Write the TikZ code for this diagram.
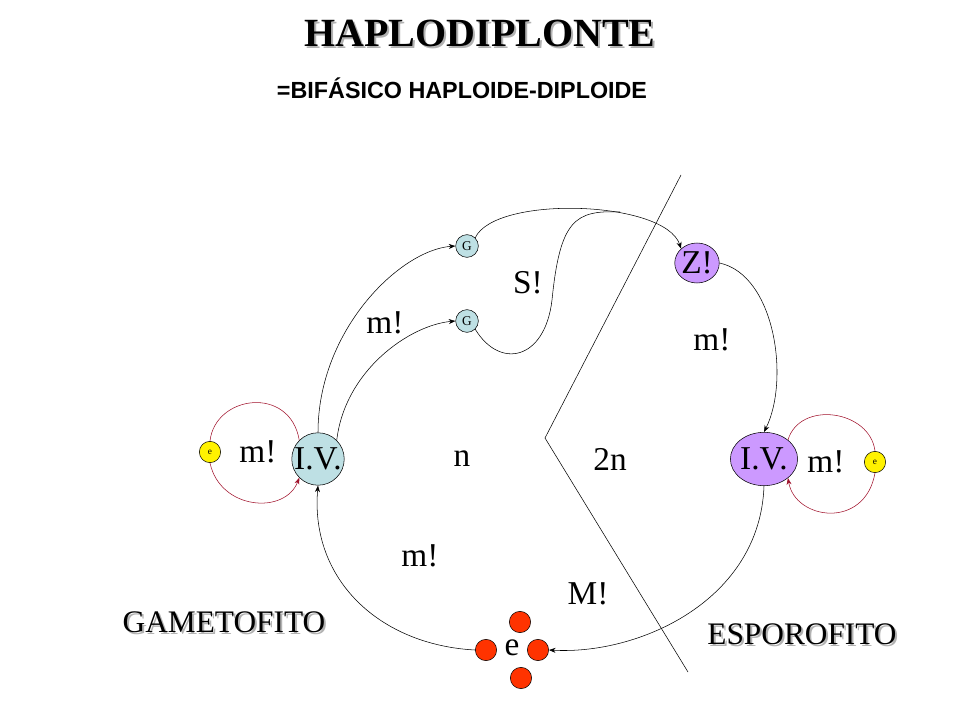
\documentclass[tikz,border=0pt]{standalone}
\usepackage{fontspec}
\setmainfont{Liberation Serif}
\setsansfont{Liberation Sans}
\usetikzlibrary{shapes.geometric,arrows.meta}
\definecolor{lblue}{HTML}{BEE0E4}
\definecolor{lpurp}{HTML}{CC99FF}
\definecolor{dred}{HTML}{A0102A}
\definecolor{ored}{HTML}{FF3300}
\begin{document}
\begin{tikzpicture}[x=0.75pt,y=-0.75pt,
  lbl/.style={font=\fontsize{25}{27}\selectfont},
  big/.style={font=\fontsize{23.5}{25}\selectfont},
  blue/.style={draw,fill=lblue,circle,inner sep=0pt},
  purp/.style={draw,fill=lpurp,ellipse,inner sep=0pt},
  yel/.style={draw,fill=yellow,circle,inner sep=0pt,minimum size=16pt,font=\fontsize{7}{8}\selectfont},
  dot/.style={draw,fill=ored,circle,inner sep=0pt,minimum size=16pt},
  arr/.style={-{Stealth[length=5pt]}},
  rarr/.style={draw=dred,-{Stealth[length=5pt]}}]
\useasboundingbox (0,0) rectangle (960,720);
\node[gray!60] (ts) at (482,35) {\bfseries\fontsize{30}{32}\selectfont HAPLODIPLONTE};
\node (t) at (480,33) {\bfseries\fontsize{30}{32}\selectfont HAPLODIPLONTE};
\node (st) at (462,88) {\sffamily\bfseries\fontsize{17.5}{19}\selectfont =BIFÁSICO HAPLOIDE-DIPLOIDE};
\node[blue,minimum size=39pt,lbl] (iv1) at (318,459) {I.V.};
\node[purp,minimum width=40pt,minimum height=40pt,lbl] (iv2) at (764,459) {I.V.};
\node[yel] (e1) at (210,452) {e};
\node[yel] (e2) at (875,462) {e};
\node[blue,minimum width=14pt,minimum height=17pt,font=\fontsize{10}{11}\selectfont] (g1) at (467,246) {G};
\node[blue,minimum width=14pt,minimum height=17pt,font=\fontsize{10}{11}\selectfont] (g2) at (467,321) {G};
\node[purp,minimum width=33pt,minimum height=30pt,lbl] (z) at (697,263) {Z!};
\node[lbl] (l1) at (258,452) {m!};
\node[lbl] (l2) at (385,323) {m!};
\node[lbl] (l3) at (528,283) {S!};
\node[lbl] (l4) at (712,340) {m!};
\node[lbl] (l5) at (826,462) {m!};
\node[lbl] (l6) at (462,459) {n};
\node[lbl] (l7) at (610,459) {2n};
\node[lbl] (l8) at (420,556) {m!};
\node[lbl] (l9) at (588,594) {M!};
\node[big,gray!60] (gas) at (226,624) {GAMETOFITO};
\node[big] (ga) at (224,622) {GAMETOFITO};
\node[big,gray!60] (ess) at (804,636) {ESPOROFITO};
\node[big] (es) at (802,634) {ESPOROFITO};
\node[lbl] (ec) at (512,648) {e};
\node[dot] (dl) at (486,650) {};
\node[dot] (dr) at (538,650) {};
\node[dot] (dt) at (520,622) {};
\node[dot] (db) at (521,678) {};
\coordinate (p1) at (681,175);
\coordinate (p2) at (545,438);
\coordinate (p3) at (688,672);
\draw (p1) -- (p2) -- (p3);
\draw[arr] (iv1.north) .. controls (318,330) and (400,250) .. (g1.west);
\draw[arr] (iv1.north east) .. controls (345,370) and (410,325) .. (g2.west);
\draw[arr] (g1.north east) .. controls (495,195) and (665,200) .. (z.north west);
\draw (g2.south east) .. controls (500,370) and (545,360) .. (552,300) .. controls (560,220) and (575,210) .. (620,212);
\draw[arr] (z.east) .. controls (775,275) and (790,380) .. (iv2.north);
\draw[arr] (iv2.south) .. controls (760,600) and (640,655) .. (dr.east);
\draw[arr] (dl.west) .. controls (380,645) and (310,580) .. (iv1.south);
\draw[draw=dred] (e1.north) .. controls (215,395) and (290,385) .. (iv1.north west);
\draw[rarr] (e1.south) .. controls (220,510) and (285,515) .. (iv1.south west);
\draw[draw=dred] (iv2.north east) .. controls (800,400) and (870,410) .. (e2.north);
\draw[rarr] (e2.south) .. controls (865,530) and (795,520) .. (iv2.south east);
\end{tikzpicture}
\end{document}
